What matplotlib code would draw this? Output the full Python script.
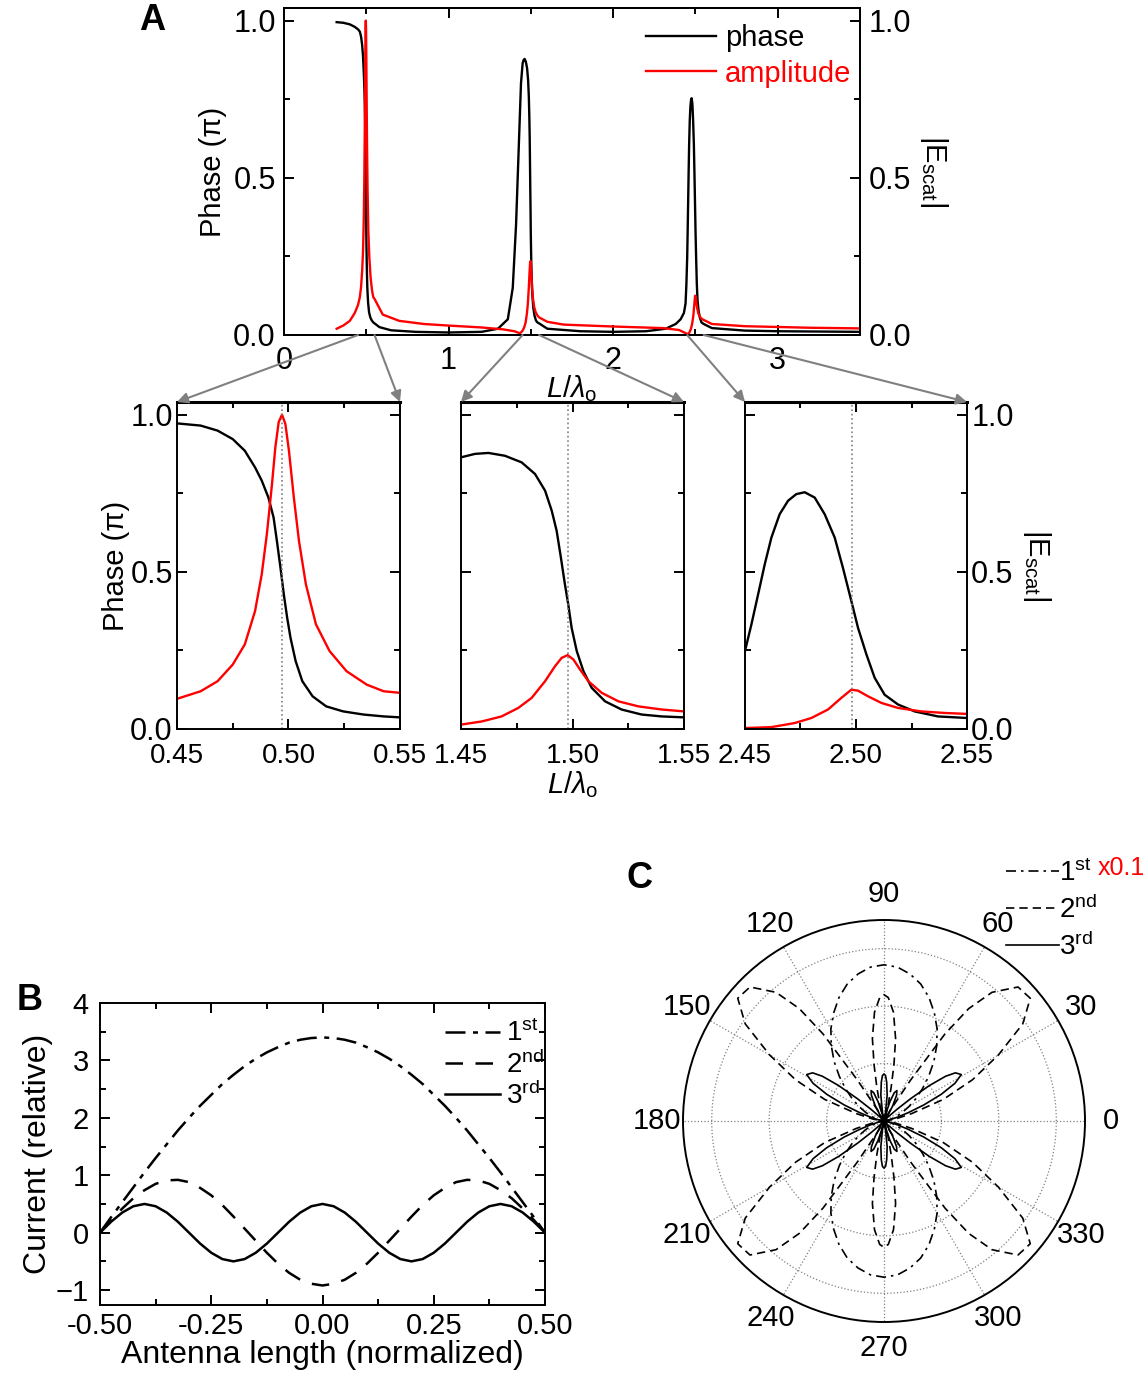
import numpy as np
import matplotlib
matplotlib.use('Agg')
import matplotlib.pyplot as plt
from matplotlib.patches import ConnectionPatch
from matplotlib.ticker import MultipleLocator, FormatStrFormatter

plt.rcParams['font.family'] = ['Liberation Sans', 'DejaVu Sans']
plt.rcParams['mathtext.fontset'] = 'custom'
plt.rcParams['mathtext.rm'] = 'Liberation Sans'
plt.rcParams['mathtext.it'] = 'Liberation Sans:italic'
plt.rcParams['mathtext.bf'] = 'Liberation Sans:bold'

# ---- panel A: phase and |E_scat| vs L/lambda ----
PHASE_X = [0.32, 0.36, 0.40, 0.43,
           0.450, 0.4606, 0.4682, 0.475, 0.4804, 0.485, 0.488, 0.491, 0.4933,
           0.4948, 0.4964, 0.4979, 0.4994, 0.5009, 0.5032, 0.5062, 0.5108,
           0.5169, 0.5245, 0.5336, 0.5427, 0.550,
           0.58, 0.65, 0.8, 1.0, 1.2, 1.3, 1.36, 1.39, 1.41, 1.43, 1.44,
           1.450, 1.4563, 1.4623, 1.4697, 1.4772, 1.4832, 1.4877, 1.4907, 1.4929,
           1.4948, 1.4966, 1.4981, 1.4996, 1.5019, 1.5049, 1.5086, 1.5146,
           1.522, 1.531, 1.540, 1.550,
           1.6, 1.8, 2.0, 2.2, 2.32, 2.38, 2.41, 2.43, 2.44, 2.445,
           2.450, 2.4529, 2.4559, 2.4589, 2.4619, 2.4656, 2.4694, 2.4731, 2.4769,
           2.4814, 2.4859, 2.4904, 2.4941, 2.4979, 2.5009, 2.5047, 2.5084,
           2.5129, 2.5189, 2.5264, 2.5369, 2.550,
           2.6, 2.8, 3.0, 3.5]
PHASE_Y = [0.995, 0.993, 0.988, 0.98,
           0.972, 0.965, 0.949, 0.922, 0.885, 0.832, 0.79, 0.736, 0.673,
           0.598, 0.513, 0.428, 0.354, 0.29, 0.216, 0.152, 0.104,
           0.072, 0.056, 0.046, 0.040, 0.037,
           0.025, 0.015, 0.010, 0.008, 0.010, 0.020, 0.05, 0.15, 0.35, 0.65, 0.80,
           0.864, 0.875, 0.878, 0.869, 0.848, 0.811, 0.758, 0.694, 0.63,
           0.545, 0.46, 0.396, 0.322, 0.248, 0.184, 0.131, 0.088,
           0.062, 0.046, 0.040, 0.037,
           0.020, 0.012, 0.010, 0.012, 0.020, 0.035, 0.05, 0.07, 0.10, 0.16,
           0.248, 0.333, 0.428, 0.524, 0.609, 0.683, 0.726, 0.747, 0.753,
           0.736, 0.683, 0.609, 0.513, 0.407, 0.322, 0.237, 0.163,
           0.109, 0.078, 0.056, 0.040, 0.035,
           0.022, 0.014, 0.012, 0.010]

AMP_X = [0.32, 0.36, 0.40, 0.43,
         0.450, 0.4606, 0.4682, 0.475, 0.4804, 0.485, 0.488, 0.4903, 0.4926,
         0.4941, 0.4956, 0.4971, 0.4986, 0.5002, 0.5024, 0.5047, 0.5078,
         0.5123, 0.5184, 0.526, 0.5351, 0.5427, 0.550,
         0.6, 0.7, 0.85, 1.0, 1.2, 1.33, 1.40, 1.43, 1.44,
         1.450, 1.4593, 1.4682, 1.4757, 1.4817, 1.4877, 1.4922, 1.4951, 1.4978,
         1.5004, 1.5034, 1.5071, 1.5131, 1.5206, 1.5295, 1.540, 1.550,
         1.6, 1.7, 2.0, 2.3, 2.40, 2.44,
         2.450, 2.4619, 2.4724, 2.4799, 2.4874, 2.4934, 2.4979, 2.5009, 2.5054,
         2.5114, 2.5189, 2.5294, 2.5399, 2.550,
         2.6, 2.8, 3.2, 3.5]
AMP_Y = [0.02, 0.03, 0.045, 0.07,
         0.096, 0.120, 0.152, 0.205, 0.269, 0.375, 0.492, 0.62, 0.779,
         0.896, 0.976, 1.0, 0.970, 0.885, 0.736, 0.598, 0.46,
         0.333, 0.248, 0.184, 0.141, 0.120, 0.115,
         0.065, 0.045, 0.035, 0.030, 0.024, 0.018, 0.012, 0.006, 0.008,
         0.014, 0.024, 0.040, 0.067, 0.099, 0.152, 0.20, 0.226, 0.235,
         0.221, 0.189, 0.152, 0.115, 0.088, 0.072, 0.062, 0.056,
         0.042, 0.033, 0.027, 0.022, 0.016, 0.006,
         0.003, 0.006, 0.019, 0.035, 0.062, 0.099, 0.125, 0.122, 0.104,
         0.083, 0.067, 0.056, 0.051, 0.048,
         0.035, 0.028, 0.023, 0.021]

ZOOM_RANGES = [(0.45, 0.55), (1.45, 1.55), (2.45, 2.55)]
ZOOM_TICKS = [['0.45', '0.50', '0.55'], ['1.45', '1.50', '1.55'], ['2.45', '2.50', '2.55']]
AMP_PEAKS = [0.4972, 1.4981, 2.4983]

# ---- panel B: current distribution ----
POS = [-0.5, -0.475, -0.45, -0.425, -0.4, -0.375, -0.35, -0.325, -0.3, -0.275,
       -0.25, -0.225, -0.2, -0.175, -0.15, -0.125, -0.1, -0.075, -0.05, -0.025,
       0.0, 0.025, 0.05, 0.075, 0.1, 0.125, 0.15, 0.175, 0.2, 0.225,
       0.25, 0.275, 0.3, 0.325, 0.35, 0.375, 0.4, 0.425, 0.45, 0.475, 0.5]
CUR_1ST = [0, 0.27, 0.53, 0.79, 1.05, 1.30, 1.54, 1.78, 2.00, 2.21,
           2.40, 2.59, 2.75, 2.90, 3.03, 3.14, 3.23, 3.31, 3.36, 3.39,
           3.40, 3.39, 3.36, 3.31, 3.23, 3.14, 3.03, 2.90, 2.75, 2.59,
           2.40, 2.21, 2.00, 1.78, 1.54, 1.30, 1.05, 0.79, 0.53, 0.27, 0]
CUR_2ND = [0, 0.22, 0.42, 0.60, 0.74, 0.85, 0.91, 0.92, 0.88, 0.78,
           0.65, 0.48, 0.28, 0.07, -0.14, -0.35, -0.54, -0.70, -0.82, -0.89,
           -0.92, -0.89, -0.82, -0.70, -0.54, -0.35, -0.14, 0.07, 0.28, 0.48,
           0.65, 0.78, 0.88, 0.92, 0.91, 0.85, 0.74, 0.60, 0.42, 0.22, 0]
CUR_3RD = [0, 0.19, 0.35, 0.46, 0.50, 0.46, 0.35, 0.19, 0, -0.19,
           -0.35, -0.46, -0.50, -0.46, -0.35, -0.19, 0, 0.19, 0.35, 0.46,
           0.50, 0.46, 0.35, 0.19, 0, -0.19, -0.35, -0.46, -0.50, -0.46,
           -0.35, -0.19, 0, 0.19, 0.35, 0.46, 0.50, 0.46, 0.35, 0.19, 0]
MODE_LABELS = ['1$^{\\rm st}$', '2$^{\\rm nd}$', '3$^{\\rm rd}$']

# ---- panel C: far-field patterns, one quadrant (deg, r) ----
TH_1ST = [0, 5, 10, 15, 20, 25, 30, 35, 40, 45, 50, 55, 60, 65, 70, 75, 80, 85, 90]
R_1ST = [0, 0.003, 0.011, 0.025, 0.045, 0.07, 0.10, 0.135, 0.175, 0.22,
         0.27, 0.32, 0.37, 0.415, 0.458, 0.494, 0.52, 0.538, 0.544]
TH_2ND = [0, 5, 10, 15, 20, 25, 30, 35, 40, 45, 50, 53, 55, 57, 60, 65, 70,
          75, 78, 80, 82, 85, 88, 90]
R_2ND = [0, 0.01, 0.04, 0.10, 0.22, 0.34, 0.46, 0.59, 0.665, 0.66, 0.585, 0.49,
         0.37, 0.17, 0.04, 0.005, 0.01, 0.05, 0.12, 0.20, 0.29, 0.38, 0.43, 0.44]
TH_3RD = [0, 5, 10, 13, 16, 19, 22, 25, 28, 31, 34, 36, 38, 40, 42, 45, 50, 55,
          60, 64, 67, 70, 73, 76, 78, 80, 83, 86, 88, 90]
R_3RD = [0, 0.004, 0.012, 0.025, 0.05, 0.09, 0.15, 0.22, 0.28, 0.314, 0.30,
         0.265, 0.20, 0.12, 0.06, 0.02, 0.005, 0.02, 0.06, 0.10, 0.115, 0.105,
         0.07, 0.025, 0.01, 0.03, 0.09, 0.135, 0.158, 0.164]

W, H = 1146, 1375
fig = plt.figure(figsize=(W / 100, H / 100), dpi=100)


def box(l, t, r, b):
    return [l / W, 1 - b / H, (r - l) / W, (b - t) / H]


def origin_style(ax, size=20):
    for s in ax.spines.values():
        s.set_linewidth(1.4)
    ax.tick_params(which='both', direction='in', top=True, right=True, width=1.4,
                   labelsize=size)
    ax.tick_params(which='major', length=7)
    ax.tick_params(which='minor', length=4)


def full_pattern(th, r):
    th = np.asarray(th, float)
    r = np.asarray(r, float)
    ang = np.concatenate([th, 180 - th[::-1], 180 + th, 360 - th[::-1]])
    rad = np.concatenate([r, r[::-1], r, r[::-1]])
    return np.deg2rad(ang), rad


# ---------- A: overview ----------
axA = fig.add_axes(box(284, 8, 860, 335))
axA2 = axA.twinx()
l1, = axA.plot(PHASE_X, PHASE_Y, color='black', lw=1.7, label='phase')
l2, = axA2.plot(AMP_X, AMP_Y, color='red', lw=1.7, label='amplitude')
for a in (axA, axA2):
    a.set_xlim(0, 3.5)
    a.set_ylim(0, 1.04)
    a.yaxis.set_major_locator(MultipleLocator(0.5))
    a.yaxis.set_minor_locator(MultipleLocator(0.25))
    a.yaxis.set_major_formatter(FormatStrFormatter('%.1f'))
    origin_style(a, size=22)
axA.tick_params(labelright=False, right=False, which='both')
axA2.tick_params(left=False, which='both')
axA.xaxis.set_major_locator(MultipleLocator(1))
axA.xaxis.set_minor_locator(MultipleLocator(0.5))
axA.tick_params(axis='x', pad=8)
axA.tick_params(axis='y', pad=6)
axA2.tick_params(axis='y', pad=6)
axA.set_xlabel('$\\mathit{L}/\\lambda_{\\rm o}$', fontsize=21, labelpad=-2)
axA.set_ylabel('Phase (π)', fontsize=21, labelpad=4)
axA2.set_ylabel('|E$_{\\rm scat}$|', fontsize=21, rotation=270, labelpad=28)
leg = axA.legend([l1, l2], ['phase', 'amplitude'], loc='upper right', frameon=False,
                 fontsize=21, handlelength=2.4, handletextpad=0.3,
                 bbox_to_anchor=(1.01, 0.995), borderaxespad=0.1, labelspacing=0.25)
leg.get_texts()[1].set_color('red')
fig.text(152 / W, 1 - 20 / H, 'A', fontsize=26, fontweight='bold', ha='center', va='center')

# ---------- A: zoomed windows ----------
zoom_boxes = [box(177, 402, 400, 729), box(461, 402, 684, 729), box(745, 402, 967, 729)]
zoom_axes = []
for i, (rng, rect) in enumerate(zip(ZOOM_RANGES, zoom_boxes)):
    ax = fig.add_axes(rect)
    ax.plot(PHASE_X, PHASE_Y, color='black', lw=1.7)
    ax.plot(AMP_X, AMP_Y, color='red', lw=1.7)
    ax.axvline(AMP_PEAKS[i], color='gray', ls=':', lw=1.2)
    ax.set_xlim(*rng)
    ax.set_ylim(0, 1.04)
    ax.set_xticks([rng[0], (rng[0] + rng[1]) / 2, rng[1]])
    ax.set_xticklabels(ZOOM_TICKS[i])
    ax.xaxis.set_minor_locator(MultipleLocator(0.025))
    ax.yaxis.set_major_locator(MultipleLocator(0.5))
    ax.yaxis.set_minor_locator(MultipleLocator(0.25))
    ax.yaxis.set_major_formatter(FormatStrFormatter('%.1f'))
    origin_style(ax, size=22)
    ax.tick_params(axis='x', pad=10, labelsize=20)
    ax.tick_params(axis='y', pad=3)
    ax.spines['top'].set_linewidth(2.2)
    if i != 0:
        ax.tick_params(labelleft=False)
    if i == 2:
        ax.tick_params(labelright=True)
    zoom_axes.append(ax)
zoom_axes[0].set_ylabel('Phase (π)', fontsize=21, labelpad=0)
zoom_axes[1].set_xlabel('$\\mathit{L}/\\lambda_{\\rm o}$', fontsize=21, labelpad=0)
zoom_axes[2].yaxis.set_label_position('right')
zoom_axes[2].set_ylabel('|E$_{\\rm scat}$|', fontsize=21, rotation=270, labelpad=28)

for rng, ax in zip(ZOOM_RANGES, zoom_axes):
    for xa, xb in ((rng[0], 0), (rng[1], 1)):
        con = ConnectionPatch(xyA=(xa, 0), coordsA=axA.transData,
                              xyB=(xb, 1), coordsB=ax.transAxes,
                              arrowstyle='-|>', color='gray', lw=1.5,
                              mutation_scale=16, shrinkA=0, shrinkB=0)
        fig.add_artist(con)

# ---------- B ----------
axB = fig.add_axes(box(100, 1003, 545, 1305))
hB = [axB.plot(POS, CUR_1ST, color='black', lw=1.8, ls=(0, (8, 3, 2, 3)))[0],
      axB.plot(POS, CUR_2ND, color='black', lw=1.8, ls=(0, (7, 5)))[0],
      axB.plot(POS, CUR_3RD, color='black', lw=1.8)[0]]
axB.set_xlim(-0.5, 0.5)
axB.set_ylim(-1.26, 4)
axB.xaxis.set_major_locator(MultipleLocator(0.25))
axB.xaxis.set_minor_locator(MultipleLocator(0.125))
axB.xaxis.set_major_formatter(FormatStrFormatter('%.2f'))
axB.yaxis.set_major_locator(MultipleLocator(1))
axB.yaxis.set_minor_locator(MultipleLocator(0.5))
origin_style(axB, size=21)
axB.tick_params(axis='x', pad=5)
axB.tick_params(axis='y', pad=8)
axB.set_xlabel('Antenna length (normalized)', fontsize=23, labelpad=0)
axB.set_ylabel('Current (relative)', fontsize=23, labelpad=2)
axB.legend(hB, MODE_LABELS, loc='upper right', frameon=False, fontsize=20,
           handlelength=2.0, handletextpad=0.2, labelspacing=0.1,
           bbox_to_anchor=(1.035, 1.0), borderaxespad=0.2)
fig.text(30 / W, 1 - 1000 / H, 'B', fontsize=26, fontweight='bold', ha='center', va='center')

# ---------- C ----------
axC = fig.add_axes(box(683, 920, 1085, 1322), projection='polar')
styles = [(0, (6, 3, 1.5, 3)), (0, (5, 3)), '-']
hC = []
for (th, r), st in zip([(TH_1ST, R_1ST), (TH_2ND, R_2ND), (TH_3RD, R_3RD)], styles):
    ang, rad = full_pattern(th, r)
    hC.append(axC.plot(ang, rad, color='black', lw=1.2, ls=st)[0])
axC.set_rlim(0, 0.7)
axC.set_rticks([0.2, 0.4, 0.6])
axC.set_yticklabels([])
axC.set_thetagrids(range(0, 360, 30), labels=[str(a) for a in range(0, 360, 30)])
axC.set_xticks(np.deg2rad(np.arange(15, 360, 30)), minor=True)
axC.grid(True, color='gray', ls=':', lw=0.9)
axC.spines['polar'].set_linewidth(1.4)
axC.tick_params(axis='x', which='both', direction='in', length=6, width=1.2, labelsize=21, pad=12)
axC.legend(hC, MODE_LABELS, loc='upper left', bbox_to_anchor=(995 / W, 1 - 848 / H),
           bbox_transform=fig.transFigure, frameon=False, fontsize=20,
           handlelength=1.9, handletextpad=0.0, labelspacing=0.3, borderaxespad=0)
fig.text(1098 / W, 1 - 868 / H, 'x0.1', color='red', fontsize=18, va='center')
fig.text(640 / W, 1 - 878 / H, 'C', fontsize=26, fontweight='bold', ha='center', va='center')

fig.savefig('out.png', dpi=100)
